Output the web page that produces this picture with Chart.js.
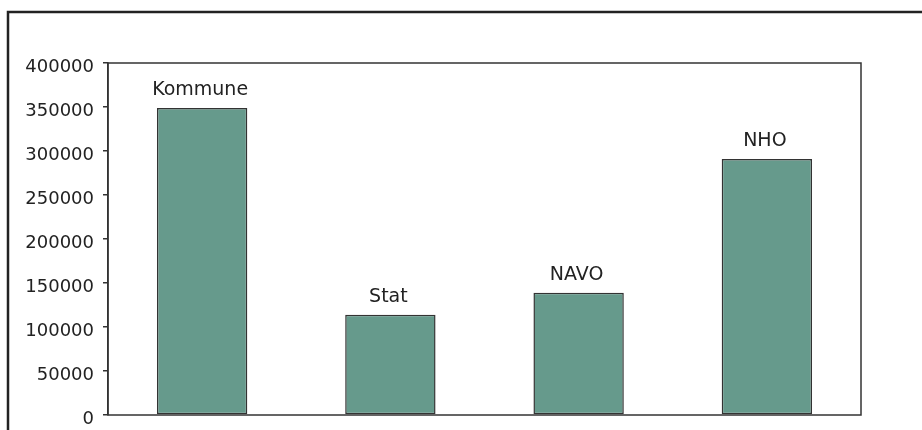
<!DOCTYPE html>
<html>
<head>
<meta charset="utf-8">
<script src="https://cdn.jsdelivr.net/npm/chart.js@4/dist/chart.umd.min.js"></script>
<style>
  html, body { margin: 0; padding: 0; background: #fff; }
  canvas { display: block; }
</style>
</head>
<body>
<canvas id="mychart" width="922" height="430"></canvas>
<script>
// categories and values
const categories = ["Kommune", "Stat", "NAVO", "NHO"];
const values = [349000, 114000, 139000, 291000];
const yTicks = [0, 50000, 100000, 150000, 200000, 250000, 300000, 350000, 400000];

const barColor = "#669a8c";
const inkColor = "#222222";
const fontFamily = "'DejaVu Sans', sans-serif";

// frame around the figure, box around the plot, and the names above the bars
const decorations = {
    id: "decorations",
    beforeDraw(chart) {
        const ctx = chart.ctx;
        ctx.save();
        ctx.strokeStyle = inkColor;
        ctx.lineWidth = 2.5;
        ctx.beginPath();
        ctx.moveTo(8, 430);
        ctx.lineTo(8, 12);
        ctx.lineTo(922, 12);
        ctx.stroke();
        ctx.restore();
    },
    afterDatasetsDraw(chart) {
        const ctx = chart.ctx;
        const area = chart.chartArea;
        ctx.save();
        ctx.strokeStyle = "#333333";
        ctx.lineWidth = 1.5;
        ctx.strokeRect(area.left, area.top, area.right - area.left, area.bottom - area.top);

        ctx.fillStyle = inkColor;
        ctx.font = "19px " + fontFamily;
        ctx.textAlign = "center";
        ctx.textBaseline = "alphabetic";
        const meta = chart.getDatasetMeta(0);
        meta.data.forEach(function (bar, i) {
            ctx.fillText(categories[i], bar.x - 2, bar.y - 13);
        });
        ctx.restore();
    }
};

new Chart("mychart", {
    type: "bar",
    data: {
        labels: categories,
        datasets: [{
            data: values,
            backgroundColor: barColor,
            borderColor: "#333333",
            borderWidth: 1.5,
            borderSkipped: false,
            categoryPercentage: 1.0,
            barPercentage: 0.48
        }]
    },
    options: {
        responsive: false,
        animation: false,
        devicePixelRatio: 1,
        layout: {
            padding: { left: 0, top: 63, right: 61, bottom: 15 }
        },
        plugins: {
            legend: { display: false },
            tooltip: { enabled: false }
        },
        scales: {
            x: { display: false },
            y: {
                min: 0,
                max: 400000,
                afterBuildTicks(axis) {
                    axis.ticks = yTicks.map(v => ({ value: v }));
                },
                afterFit(axis) {
                    axis.width = 108;
                    axis.paddingTop = 0;
                    axis.paddingBottom = 0;
                },
                grid: {
                    drawOnChartArea: false,
                    drawTicks: true,
                    tickLength: 5,
                    color: "#333333",
                    lineWidth: 1.5
                },
                border: { display: true, color: "#333333", width: 1.5 },
                ticks: {
                    padding: 9,
                    labelOffset: 4,
                    color: inkColor,
                    font: { family: fontFamily, size: 18 },
                    callback: v => String(v)
                }
            }
        }
    },
    plugins: [decorations]
});
</script>
</body>
</html>
